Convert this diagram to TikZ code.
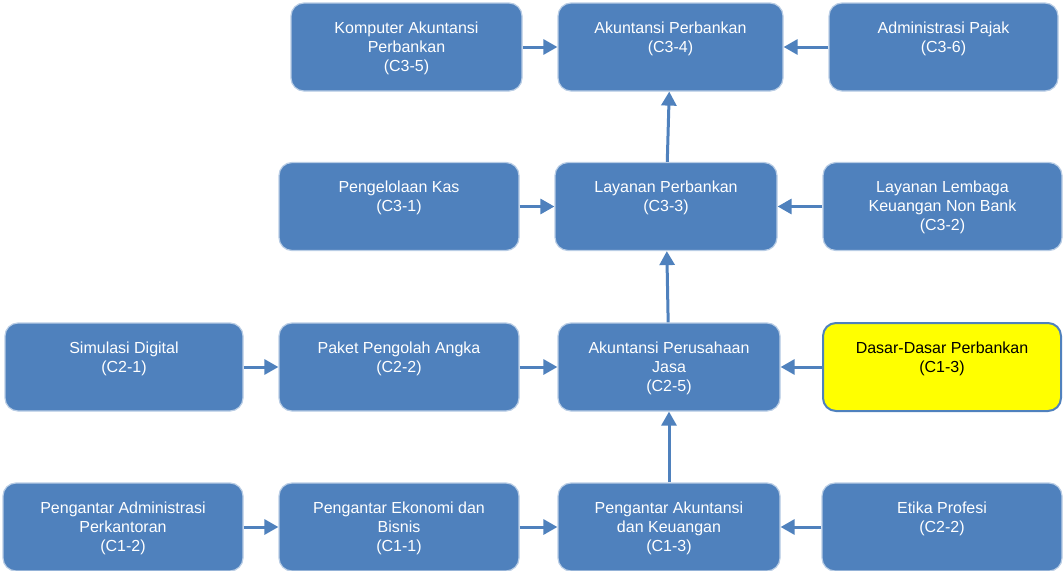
\documentclass[tikz,border=0pt]{standalone}
\usepackage{fontspec}
\setmainfont{Liberation Sans}
\usepackage{tikz}
\usetikzlibrary{arrows.meta,positioning,calc}
\usepackage{xcolor}
\definecolor{cardblue}{RGB}{79,129,189}
\definecolor{cardedge}{RGB}{185,205,229}
\definecolor{hiyellow}{RGB}{255,255,0}
\tikzset{
  card/.style={draw=cardedge,fill=cardblue,text=white,line width=1.2pt,
               rounded corners=13pt,minimum height=88pt,inner xsep=0pt,
               inner ysep=17pt,font=\fontsize{16}{19}\selectfont},
  cardhi/.style={card,draw=cardblue,fill=hiyellow,text=black,line width=2pt},
  ar/.style={-{Triangle[length=14pt,width=15pt]},line width=3pt,cardblue},
}
\newcommand{\cardtext}[2]{\parbox[c][54pt][t]{#1pt}{\centering\strut #2}}

\begin{document}
\begin{tikzpicture}[x=1pt,y=-1pt]
    \useasboundingbox (0,0) rectangle (1064,570);
    % semester 3 (top)
    \node[card,minimum width=231pt] (c35) at (406.5,47)
      {\cardtext{220}{Komputer Akuntansi\\Perbankan\\(C3-5)}};
    \node[card,minimum width=225pt] (c34) at (670.5,47)
      {\cardtext{215}{Akuntansi Perbankan\\(C3-4)}};
    \node[card,minimum width=229pt] (c36) at (943.5,47)
      {\cardtext{220}{Administrasi Pajak\\(C3-6)}};
    \node[card,minimum width=240pt] (c31) at (399,206.5)
      {\cardtext{230}{Pengelolaan Kas\\(C3-1)}};
    \node[card,minimum width=222pt] (c33) at (666,206.5)
      {\cardtext{212}{Layanan Perbankan\\(C3-3)}};
    \node[card,minimum width=239pt] (c32) at (942.5,206.5)
      {\cardtext{230}{Layanan Lembaga\\Keuangan Non Bank\\(C3-2)}};
    % semester 2
    \node[card,minimum width=238pt] (c21) at (124,367)
      {\cardtext{228}{Simulasi Digital\\(C2-1)}};
    \node[card,minimum width=240pt] (c22) at (399,367)
      {\cardtext{230}{Paket Pengolah Angka\\(C2-2)}};
    \node[card,minimum width=222pt] (c25) at (669,367)
      {\cardtext{212}{Akuntansi Perusahaan\\Jasa\\(C2-5)}};
    \node[cardhi,minimum width=238pt] (dsr) at (942,367)
      {\cardtext{228}{Dasar-Dasar Perbankan\\(C1-3)}};
    % semester 1 (bottom)
    \node[card,minimum width=240pt] (c12) at (123,527)
      {\cardtext{230}{Pengantar Administrasi\\Perkantoran\\(C1-2)}};
    \node[card,minimum width=240pt] (c11) at (399,527)
      {\cardtext{230}{Pengantar Ekonomi dan\\Bisnis\\(C1-1)}};
    \node[card,minimum width=222pt] (c13) at (669,527)
      {\cardtext{212}{Pengantar Akuntansi\\dan Keuangan\\(C1-3)}};
    \node[card,minimum width=240pt] (etk) at (942,527)
      {\cardtext{230}{Etika Profesi\\(C2-2)}};
    % arrows
    \draw[ar] (c35) -- (c34);
    \draw[ar] (c36) -- (c34);
    \draw[ar] (c33) -- (c34);
    \draw[ar] (c31) -- (c33);
    \draw[ar] (c32) -- (c33);
    \draw[ar] (c25) -- (c33);
    \draw[ar] (c21) -- (c22);
    \draw[ar] (c22) -- (c25);
    \draw[ar] (dsr) -- (c25);
    \draw[ar] (c13) -- (c25);
    \draw[ar] (c12) -- (c11);
    \draw[ar] (c11) -- (c13);
    \draw[ar] (etk) -- (c13);
\end{tikzpicture}
\end{document}
